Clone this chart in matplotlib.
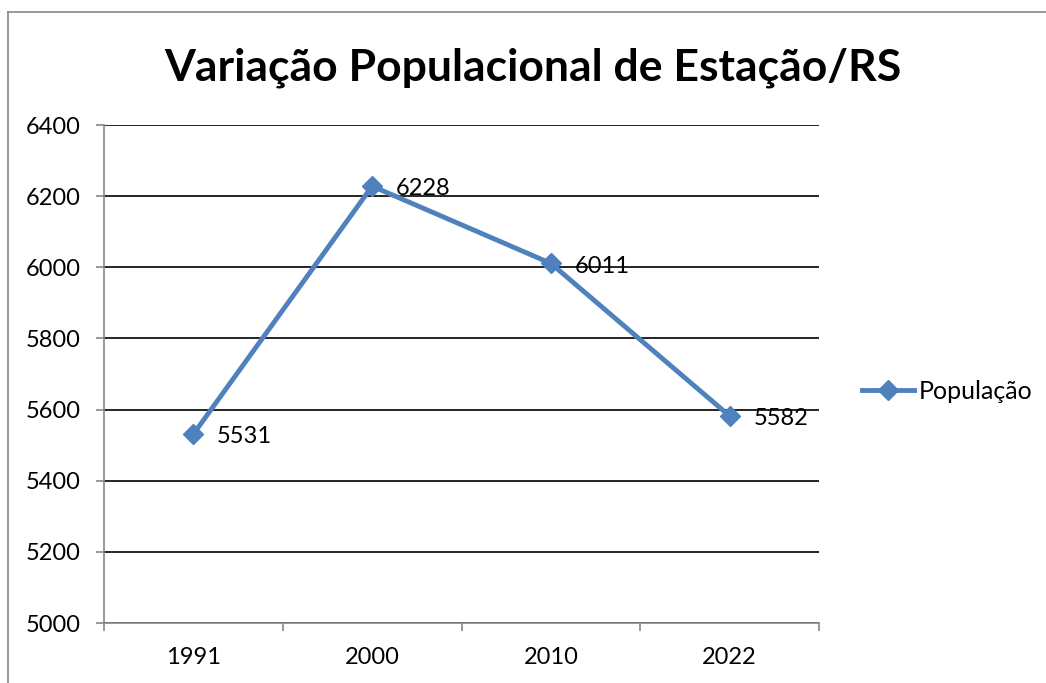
#!/usr/bin/env python3
"""Variação populacional de Estação/RS (Excel-style line chart)."""
import matplotlib
matplotlib.use("Agg")
import matplotlib.pyplot as plt
from matplotlib.lines import Line2D

years = ["1991", "2000", "2010", "2022"]
population = [5531, 6228, 6011, 5582]
yticks = [5000, 5200, 5400, 5600, 5800, 6000, 6200, 6400]

BLUE = "#4F81BD"
GRAY = "#878787"
plt.rcParams["font.family"] = ["Lato", "DejaVu Sans"]

fig = plt.figure(figsize=(10.46, 6.83), dpi=100)
ax = fig.add_axes([104 / 1046, 1 - 623 / 683, (819 - 104) / 1046, (623 - 125) / 683])

xs = list(range(len(years)))
ax.plot(xs, population, color=BLUE, lw=3.5, marker="D", markersize=10,
        label="População", zorder=3)
for x, v in zip(xs, population):
    ax.annotate(str(v), (x, v), xytext=(17, -2), textcoords="offset points",
                va="center", ha="left", fontsize=17)

ax.set_xlim(-0.5, len(years) - 0.5)
ax.set_ylim(5000, 6400)
ax.set_yticks(yticks)
ax.set_xticks(xs)
ax.set_xticklabels(years)
ax.set_xticks([i - 0.5 for i in range(len(years) + 1)], minor=True)
ax.tick_params(axis="x", which="major", length=0, pad=17, labelsize=17)
ax.tick_params(axis="x", which="minor", length=6, color=GRAY, width=1.2)
ax.tick_params(axis="y", length=6, color=GRAY, width=1.2, pad=11, labelsize=17)
ax.grid(axis="y", color="black", lw=1.2)
ax.set_axisbelow(True)
for s in ("top", "right"):
    ax.spines[s].set_visible(False)
for s in ("left", "bottom"):
    ax.spines[s].set_color(GRAY)
    ax.spines[s].set_linewidth(1.2)

fig.text(533 / 1046, 1 - 68 / 683, "Variação Populacional de Estação/RS",
         ha="center", va="center", fontsize=32, fontweight="bold")

ax.legend(loc="center left", bbox_to_anchor=(1.028, 0.465), frameon=False,
          fontsize=18, handlelength=2.1, handletextpad=0.2)

# outer chart frame (partly cropped in the original)
fig.add_artist(Line2D([8 / 1046, 8 / 1046], [0, 1 - 12 / 683], color=GRAY, lw=1.2))
fig.add_artist(Line2D([8 / 1046, 1], [1 - 12 / 683, 1 - 12 / 683], color=GRAY, lw=1.2))

fig.savefig("out.png", dpi=100)
print("wrote out.png")
